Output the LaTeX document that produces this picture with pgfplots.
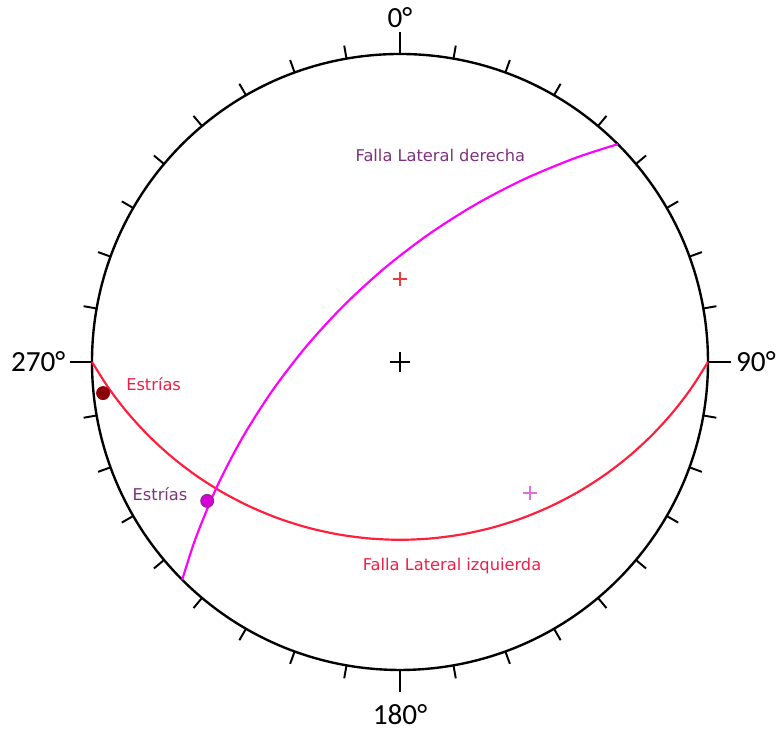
\documentclass[border=0pt]{standalone}
\usepackage{fontspec}
\setmainfont{DejaVu Sans}
\newfontfamily\degfont{Carlito}
\usepackage{pgfplots}
\pgfplotsset{compat=1.18}
\definecolor{redline}{RGB}{255,30,60}
\definecolor{pinkline}{RGB}{255,0,255}
\definecolor{redtext}{RGB}{240,30,70}
\definecolor{purpletext}{RGB}{125,50,125}
\definecolor{darkdot}{RGB}{140,0,10}
\definecolor{magdot}{RGB}{215,0,215}
\definecolor{redplus}{RGB}{235,60,60}
\definecolor{pinkplus}{RGB}{225,110,225}
\begin{document}
\begin{tikzpicture}
\begin{axis}[hide axis, x=5cm, y=5cm,
  xmin=-1.2987, xmax=1.2338, ymin=-1.1916, ymax=1.1753, clip=false]
\path (axis cs:-1.2987,-1.1916) rectangle (axis cs:1.2338,1.1753);
% primitive circle and ticks
\draw[line width=1.1pt] (axis cs:0,0) circle [radius=5cm];
\pgfplotsinvokeforeach{10,20,...,80,100,110,...,170,190,200,...,260,280,290,...,350}{
  \draw[line width=0.9pt] (axis cs:{sin(#1)},{cos(#1)}) -- (axis cs:{1.043*sin(#1)},{1.043*cos(#1)});
}
\addplot[black, line width=1pt, no marks] coordinates {(0,1) (0,1.07)};
\addplot[black, line width=1pt, no marks] coordinates {(0,-1) (0,-1.07)};
\addplot[black, line width=1pt, no marks] coordinates {(1,0) (1.075,0)};
\addplot[black, line width=1pt, no marks] coordinates {(-1,0) (-1.072,0)};
% great circles (equal-angle projection)
\addplot[redline, line width=1pt, smooth, no marks] coordinates {
(-1.0,0.0) (-0.94588,-0.0849) (-0.88455,-0.1648) (-0.81650,-0.2391) (-0.74223,-0.3072)
(-0.66231,-0.3685) (-0.57735,-0.4226) (-0.48800,-0.4691) (-0.39493,-0.5077) (-0.29886,-0.5380)
(-0.20051,-0.5598) (-0.10064,-0.5729) (0,-0.5774) (0.10064,-0.5729) (0.20051,-0.5598)
(0.29886,-0.5380) (0.39493,-0.5077) (0.48800,-0.4691) (0.57735,-0.4226) (0.66231,-0.3685)
(0.74223,-0.3072) (0.81650,-0.2391) (0.88455,-0.1648) (0.94588,-0.0849) (1.0,0.0)};
\addplot[pinkline, line width=1pt, smooth, no marks] coordinates {
(-0.70711,-0.70711) (-0.66270,-0.57013) (-0.59382,-0.40390) (-0.51074,-0.24427) (-0.41406,-0.09250)
(-0.30450,0.05025) (-0.18293,0.18293) (-0.05025,0.30450) (0.09250,0.41406) (0.24427,0.51074)
(0.40390,0.59382) (0.57013,0.66270) (0.70711,0.70711)};
% poles and centre
\addplot[only marks, mark=+, mark size=4.6pt, black, line width=0.9pt] coordinates {(0,0)};
\addplot[only marks, mark=+, mark size=3.4pt, redplus, line width=0.7pt] coordinates {(0,0.269)};
\addplot[only marks, mark=+, mark size=3.4pt, pinkplus, line width=0.7pt] coordinates {(0.422,-0.425)};
% striae
\addplot[only marks, mark=*, mark size=3.0pt, darkdot, mark options={fill=darkdot, draw=darkdot}] coordinates {(-0.964,-0.101)};
\addplot[only marks, mark=*, mark size=3.0pt, magdot, mark options={fill=magdot, draw=purpletext, line width=0.4pt}] coordinates {(-0.626,-0.451)};
% labels
\node[font=\fontsize{7.5}{9}\selectfont, text=purpletext] at (axis cs:0.131,0.672) {Falla Lateral derecha};
\node[font=\fontsize{7.5}{9}\selectfont, text=redtext] at (axis cs:0.169,-0.664) {Falla Lateral izquierda};
\node[font=\fontsize{7.5}{9}\selectfont, text=redtext] at (axis cs:-0.800,-0.072) {Estrías};
\node[font=\fontsize{7.5}{9}\selectfont, text=purpletext] at (axis cs:-0.779,-0.428) {Estrías};
\node[font=\degfont\fontsize{13.5}{16}\selectfont] at (axis cs:0,1.118) {0°};
\node[font=\degfont\fontsize{13.5}{16}\selectfont] at (axis cs:0,-1.146) {180°};
\node[font=\degfont\fontsize{13.5}{16}\selectfont, anchor=east, inner sep=0pt] at (axis cs:-1.085,0.0) {270°};
\node[font=\degfont\fontsize{13.5}{16}\selectfont, anchor=west, inner sep=0pt] at (axis cs:1.090,0.0) {90°};
\end{axis}
\end{tikzpicture}
\end{document}
